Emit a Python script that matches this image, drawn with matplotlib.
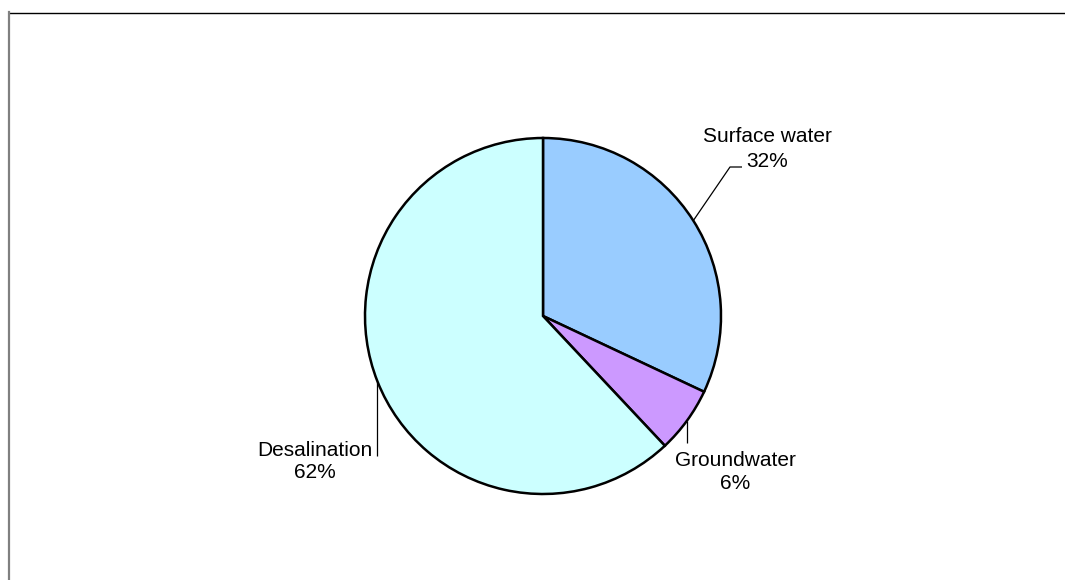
import numpy as np
import matplotlib
matplotlib.use("Agg")
import matplotlib.pyplot as plt
from matplotlib.lines import Line2D

plt.rcParams['font.family'] = ['Liberation Sans', 'DejaVu Sans']

# water supply by source
sources = ['Surface water', 'Groundwater', 'Desalination']
shares = [32, 6, 62]
colors = ['#99CCFF', '#CC99FF', '#CCFFFF']

W, H = 1065, 580
cx, cy, R = 543, 316, 178   # pie centre / radius in pixels

fig = plt.figure(figsize=(W / 100, H / 100), dpi=100)
ax = fig.add_axes([0, 0, 1, 1])

wedges, _ = ax.pie(shares, colors=colors, startangle=90, counterclock=False,
                   radius=1, center=(0, 0), frame=True,
                   wedgeprops=dict(edgecolor='black', linewidth=1.8))
ax.set_xlim(-cx / R, (W - cx) / R)
ax.set_ylim(-(H - cy) / R, cy / R)
ax.set_aspect('equal')
ax.axis('off')

def px(x, y):
    return (x - cx) / R, (cy - y) / R

# leader lines: elbow/end points per label (pixels), start at wedge mid-angle
leaders = {
    'Surface water': [(730, 167), (742, 167)],
    'Groundwater': [(None, 443)],
    'Desalination': [(None, 456)],
}
# label anchor: centre x, baseline y of name line and percent line
label_pos = {
    'Surface water': (767, 142, 167),
    'Groundwater': (735, 466, 489),
    'Desalination': (315, 456, 478),
}

for w, name, val in zip(wedges, sources, shares):
    mid = np.deg2rad((w.theta1 + w.theta2) / 2)
    x0, y0 = np.cos(mid), np.sin(mid)
    xs, ys = [x0], [y0]
    for (lx, ly) in leaders[name]:
        dx, dy = px(lx if lx is not None else cx, ly)
        xs.append(dx if lx is not None else x0)
        ys.append(dy)
    ax.plot(xs, ys, color='black', lw=0.9, solid_capstyle='butt')
    tx, b1, b2 = label_pos[name]
    x1, y1 = px(tx, b1)
    _, y2 = px(tx, b2)
    ax.text(x1, y1, name, ha='center', va='baseline', fontsize=15, color='black')
    ax.text(x1, y2, f'{val}%', ha='center', va='baseline', fontsize=15, color='black')

# chart frame
fig.add_artist(Line2D([8.5 / W, 1], [1 - 12.5 / H, 1 - 12.5 / H],
                      transform=fig.transFigure, color='black', lw=1))
fig.add_artist(Line2D([9 / W, 9 / W], [0, 1 - 12 / H],
                      transform=fig.transFigure, color='#808080', lw=1.6))

fig.savefig('out.png', dpi=100)
